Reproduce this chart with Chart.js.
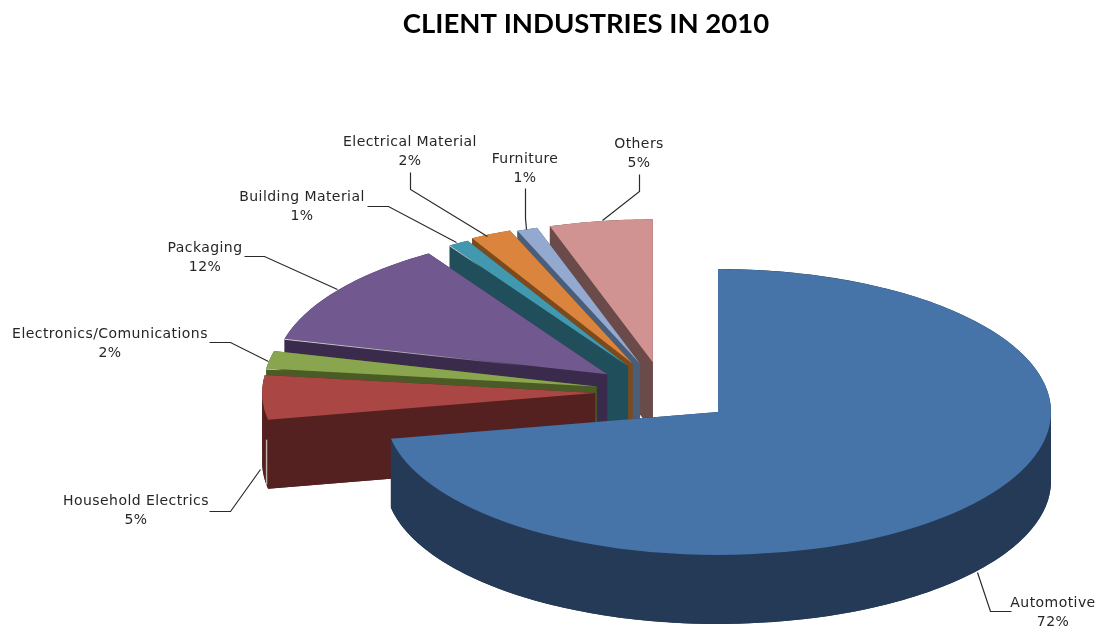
<!DOCTYPE html>
<html><head><meta charset="utf-8">
<style>html,body{margin:0;padding:0;background:#fff;overflow:hidden}canvas{display:block}</style>
<script src="https://cdn.jsdelivr.net/npm/chart.js@4"></script>
</head><body><canvas id="c" width="1096" height="628"></canvas>
<script>
const categories = ["Automotive","Household Electrics","Electronics/Comunications","Packaging","Building Material","Electrical Material","Furniture","Others"];
const shares = [72,5,2,12,1,2,1,5];
const topColors = ["#4673A8","#AA4643","#89A54E","#71588F","#4198AF","#DB843D","#93A9CF","#D19392"];
const sideColors = ["#243A56","#552120","#4A5B26","#3A2A4B","#204E5B","#7D4A1C","#4A5E7A","#6B4B4A"];
const explode = [0,.206,.205,.21,.21,.22,.21,.21];
const edgeGlint = [0,0,.05,.75,.18,0,0,0];
const view = {cx:718, cy:412, rx:333, ry:143, depth:69, groupX:-.163, groupY:-.14};
const labelSpots = [[1053,602],[136,500],[110,333],[205,247],[302,196],[410,141],[525,158],[639,143]];
const leaders = [
 [[1011,611],[990,611],[977,572]],
 [[209,511],[230,511],[260,469]],
 [[209,342],[230,342],[268,361]],
 [[244,256],[264,256],[337,289]],
 [[367,206],[388,206],[456,242]],
 [[410,172],[410,189],[487,236]],
 [[525,188],[525,218],[526,229]],
 [[639,174],[639,191],[602,220]]
];
const pie3d = {
 id:'pie3d',
 beforeDatasetDraw(chart){
  const ctx = chart.ctx, arcs = chart.getDatasetMeta(0).data;
  const v = view;
  for (let i = arcs.length-1; i >= 0; i--) {
   const a = arcs[i], base = a.options;
   const mid = (a.startAngle+a.endAngle)/2, e = explode[i];
   const ox = v.cx + (e>0 ? v.groupX*v.rx : 0) + Math.cos(mid)*e*v.rx;
   const oy = v.cy + (e>0 ? v.groupY*v.ry : 0) + Math.sin(mid)*e*v.ry;
   const sx = v.rx/a.outerRadius, sy = v.ry/a.outerRadius;
   const paint = (dy,color) => {
    ctx.save();
    ctx.translate(ox,oy+dy); ctx.scale(sx,sy); ctx.translate(-a.x,-a.y);
    a.options = Object.create(base,{backgroundColor:{value:color},offset:{value:0}});
    a.draw(ctx);
    a.options = base;
    ctx.restore();
   };
   const rim = t => [ox+Math.cos(t)*v.rx, oy+Math.sin(t)*v.ry];
   const poly = pts => {ctx.beginPath();pts.forEach((q,k)=>k?ctx.lineTo(q[0],q[1]):ctx.moveTo(q[0],q[1]));ctx.closePath();ctx.fill();};
   paint(v.depth, sideColors[i]);
   ctx.fillStyle = sideColors[i];
   // outer wall, split where the rim turns back so each piece is a simple band
   const cuts = [a.startAngle];
   [-Math.PI,0,Math.PI,2*Math.PI].forEach(b=>{if(b>a.startAngle&&b<a.endAngle)cuts.push(b);});
   cuts.push(a.endAngle);
   for (let c=0;c<cuts.length-1;c++){
    const t0=cuts[c],t1=cuts[c+1],n=Math.ceil((t1-t0)*60),up=[],lo=[];
    for(let k=0;k<=n;k++){const p=rim(t0+(t1-t0)*k/n);up.push(p);lo.unshift([p[0],p[1]+v.depth]);}
    poly(up.concat(lo));
   }
   const pS=rim(a.startAngle), pE=rim(a.endAngle);
   [pS,pE].forEach(p=>poly([[ox,oy],p,[p[0],p[1]+v.depth],[ox,oy+v.depth]]));
   if (i===1) { // pale sliver on the household slice's outer corner
    ctx.save();ctx.strokeStyle='rgba(225,215,210,.8)';ctx.lineWidth=1.4;
    ctx.beginPath();ctx.moveTo(pS[0]-1.5,pS[1]+20);ctx.lineTo(pS[0]-1.5,pS[1]+65);ctx.stroke();ctx.restore();
   }
   paint(0, topColors[i]);
   if (edgeGlint[i]>0) {
    const p=pS, f=edgeGlint[i];
    const q=[p[0]+(ox-p[0])*f, p[1]+(oy-p[1])*f];
    const g=ctx.createLinearGradient(p[0],p[1],q[0],q[1]);
    g.addColorStop(0,'rgba(255,255,255,.8)');g.addColorStop(.6,'rgba(255,255,255,.55)');g.addColorStop(1,'rgba(255,255,255,0)');
    ctx.save();ctx.strokeStyle=g;ctx.lineWidth=1;
    ctx.beginPath();ctx.moveTo(p[0],p[1]+.5);ctx.lineTo(q[0],q[1]+.5);ctx.stroke();ctx.restore();
   }
  }
  return false;
 },
 afterDatasetsDraw(chart){
  const ctx = chart.ctx;
  ctx.save();
  ctx.strokeStyle='#2a2a2a'; ctx.lineWidth=1.2;
  leaders.forEach(p=>{ctx.beginPath();p.forEach((q,i)=>i?ctx.lineTo(q[0]+.5,q[1]+.5):ctx.moveTo(q[0]+.5,q[1]+.5));ctx.stroke();});
  ctx.fillStyle='#262626'; ctx.font='14px "DejaVu Sans"'; ctx.letterSpacing='0.43px'; ctx.textAlign='center'; ctx.textBaseline='middle';
  categories.forEach((n,i)=>{
   const [x,y]=labelSpots[i];
   ctx.fillText(n,x,y+1);
   ctx.fillText(shares[i]+'%',x,y+20);
  });
  ctx.restore();
 }
};
new Chart(document.getElementById('c'),{
 type:'pie',
 data:{labels:categories,datasets:[{data:shares,backgroundColor:topColors,borderWidth:0}]},
 plugins:[pie3d],
 options:{
  responsive:false,animation:false,
  layout:{padding:{left:76,right:0,top:0,bottom:0}},
  plugins:{
   legend:{display:false},tooltip:{enabled:false},
   title:{display:true,text:'CLIENT INDUSTRIES IN 2010',color:'#000',
    font:{family:'Lato',weight:'bold',size:27.5},padding:{top:8,bottom:10}}
  }
 }
});
</script></body></html>
